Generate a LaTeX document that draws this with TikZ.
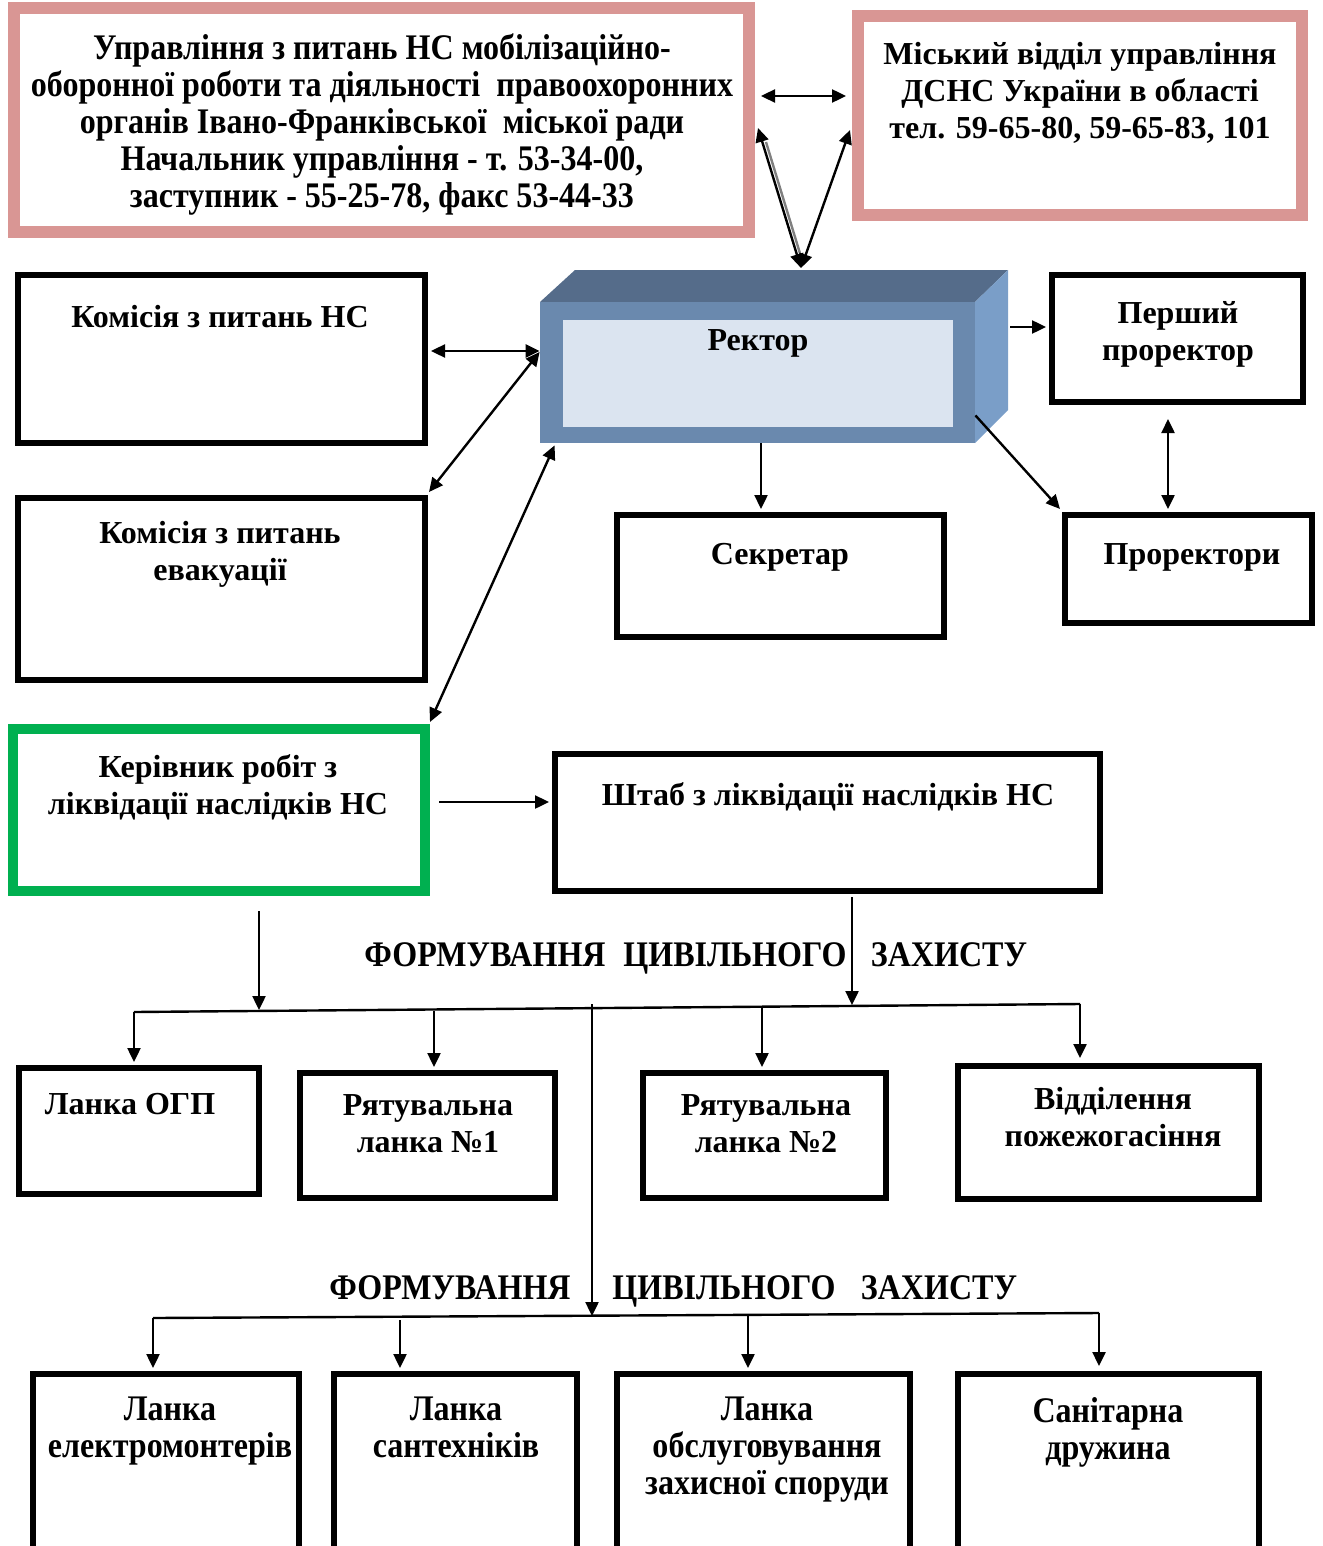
\documentclass[tikz,border=0pt]{standalone}
\usepackage{fontspec}
\setmainfont{Liberation Serif}
\newfontfamily\narrowfont[FakeStretch=0.89]{Liberation Serif Bold}
\usetikzlibrary{arrows.meta,fit,calc,positioning}

\definecolor{pinkframe}{RGB}{217,150,148}
\definecolor{greenframe}{RGB}{0,176,80}
\definecolor{rectfront}{RGB}{106,137,174}
\definecolor{recttop}{RGB}{85,108,138}
\definecolor{rectside}{RGB}{122,158,200}
\definecolor{rectinner}{RGB}{219,228,240}

\tikzset{
  blk/.style={draw, line width=3pt, inner sep=0pt},
  pinkblk/.style={draw=pinkframe, line width=6pt, inner sep=0pt},
  greenblk/.style={draw=greenframe, line width=5pt, inner sep=0pt},
  txt/.style={anchor=north, inner sep=0pt, align=center,
    font=\bfseries\fontsize{16}{18.5}\selectfont, execute at begin node=\strut},
  ntxt/.style={txt, font=\narrowfont\fontsize{18}{18.5}\selectfont},
  link/.style={line width=1.2pt},
  >={Triangle[length=7pt,width=6.5pt]}
}

\begin{document}
\begin{tikzpicture}[x=0.5pt, y=-0.5pt]
  \useasboundingbox (0,0) rectangle (1322,1546);

  % upper organs
  \node[pinkblk, fit={(14,8) (749,232)}] (upr) {};
  \node[ntxt] (uprT) at (382,33) {Управління з питань НС мобілізаційно-\\оборонної роботи та діяльності~ правоохоронних\\органів Івано-Франківської~ міської ради\\Начальник управління - т. 53-34-00,\\заступник - 55-25-78, факс 53-44-33};
  \node[pinkblk, fit={(858,16) (1302,215)}] (dsns) {};
  \node[txt] (dsnsT) at (1080,42) {Міський відділ управління\\ДСНС України в області\\тел. 59-65-80, 59-65-83, 101};

  % rector block
  \fill[recttop] (540,302) -- (575,270) -- (1008,270) -- (975,302) -- cycle;
  \fill[rectside] (975,302) -- (1008,270) -- (1008,410) -- (975,443) -- cycle;
  \fill[rectfront] (540,302) rectangle (975,443);
  \fill[rectinner] (563,320) rectangle (953,427);
  \node[fit={(540,302) (975,443)}, inner sep=0pt] (rector) {};
  \node[txt] (rectorT) at (758,324) {Ректор};
  \coordinate (rtop) at (801,268);

  % left column
  \node[blk, fit={(18,275) (425,443)}] (komns) {};
  \node[txt] (komnsT) at (220,301) {Комісія з питань НС};
  \node[blk, fit={(18,498) (425,680)}] (komev) {};
  \node[txt] (komevT) at (220,521) {Комісія з питань\\евакуації};
  \node[greenblk, fit={(13,729) (425,891)}] (kerivn) {};
  \node[txt] (kerivnT) at (218,754) {Керівник робіт з\\ліквідації наслідків НС};

  % right column
  \node[blk, fit={(1052,275) (1303,402)}] (pershyi) {};
  \node[txt] (pershyiT) at (1178,301) {Перший\\проректор};
  \node[blk, fit={(1065,515) (1312,623)}] (prorekt) {};
  \node[txt] (prorektT) at (1192,538) {Проректори};
  \node[blk, fit={(617,515) (944,637)}] (sekr) {};
  \node[txt] (sekrT) at (780,538) {Секретар};
  \node[blk, fit={(555,754) (1100,891)}] (shtab) {};
  \node[txt] (shtabT) at (828,779) {Штаб з ліквідації наслідків НС};

  % formations, first row
  \node[ntxt] (f1a) at (485,940) {ФОРМУВАННЯ};
  \node[ntxt] (f1b) at (735,940) {ЦИВІЛЬНОГО};
  \node[ntxt] (f1c) at (949,940) {ЗАХИСТУ};
  \node[blk, fit={(19,1068) (259,1194)}] (ogp) {};
  \node[txt] (ogpT) at (130,1088) {Ланка ОГП};
  \node[blk, fit={(300,1073) (555,1198)}] (ryat1) {};
  \node[txt] (ryat1T) at (428,1094) {Рятувальна\\ланка №1};
  \node[blk, fit={(643,1073) (886,1198)}] (ryat2) {};
  \node[txt] (ryat2T) at (766,1094) {Рятувальна\\ланка №2};
  \node[blk, fit={(958,1066) (1259,1199)}] (viddil) {};
  \node[txt] (viddilT) at (1113,1087) {Відділення\\пожежогасіння};

  % formations, second row
  \node[ntxt] (f2a) at (450,1273) {ФОРМУВАННЯ};
  \node[ntxt] (f2b) at (724,1273) {ЦИВІЛЬНОГО};
  \node[ntxt] (f2c) at (939,1273) {ЗАХИСТУ};
  \node[blk, fit={(33,1374) (299,1600)}] (elektro) {};
  \node[ntxt] (elektroT) at (170,1397) {Ланка\\електромонтерів};
  \node[blk, fit={(334,1374) (577,1600)}] (santeh) {};
  \node[ntxt] (santehT) at (456,1397) {Ланка\\сантехніків};
  \node[blk, fit={(617,1374) (910,1600)}] (obsl) {};
  \node[ntxt] (obslT) at (767,1397) {Ланка\\обслуговування\\захисної споруди};
  \node[blk, fit={(958,1374) (1259,1600)}] (sanit) {};
  \node[ntxt] (sanitT) at (1108,1397) {Санітарна\\дружина};

  % links at the top
  \draw[link, <->] ($(upr.east |- 0,96)+(6,0)$) -- ($(dsns.west |- 0,96)+(-6,0)$);
  \draw[link, gray] ($(upr.east |- 0,142)+(11,0)$) -- ($(rtop)+(1,-8)$);
  \draw[link, <->] (rtop) -- ($(upr.east |- 0,128)+(3,0)$);
  \draw[link, <->] (rtop) -- ($(dsns.west |- 0,130)+(-2,0)$);

  % links of the rector
  \draw[link, <->] ($(komns.east |- 0,351)+(3,0)$) -- (rector.west |- 0,351);
  \draw[link, <->] (rector.west |- 0,352) -- ($(komev.north east)+(1,-3)$);
  \draw[link, <->] ($(rector.south west)+(15,2)$) -- ($(kerivn.north east)+(0,-2)$);
  \draw[link, ->] ($(rector.east |- 0,327)+(35,0)$) -- ($(pershyi.west |- 0,327)+(-3,0)$);
  \draw[link, ->] ($(rector.south east)+(0,-28)$) -- ($(prorekt.north west)+(-2,-3)$);
  \draw[link, <->] ($(pershyi.south -| 1168,0)+(0,14)$) -- ($(prorekt.north -| 1168,0)+(0,-3)$);
  \draw[link, ->] (rector.south -| 761,0) -- ($(sekr.north -| 761,0)+(0,-3)$);
  \draw[link, ->] ($(kerivn.east |- 0,802)+(9,0)$) -- ($(shtab.west |- 0,802)+(-3,0)$);

  % buses to the formations
  \coordinate (bus1L) at (134,1012);
  \coordinate (bus1R) at (1080,1004);
  \draw[link] (bus1L) -- (bus1R);
  \draw[link, ->] ($(kerivn.south -| 259,0)+(0,15)$) -- (259,1010);
  \draw[link, ->] ($(shtab.south -| 852,0)+(0,3)$) -- (852,1005);
  \draw[link, ->] (bus1L) -- ($(ogp.north -| bus1L)+(0,-3)$);
  \draw[link, ->] (434,1011) -- ($(ryat1.north -| 434,0)+(0,-3)$);
  \draw[link, ->] (762,1008) -- ($(ryat2.north -| 762,0)+(0,-3)$);
  \draw[link, ->] (bus1R) -- ($(viddil.north -| bus1R)+(0,-5)$);

  \coordinate (bus2L) at (153,1318);
  \coordinate (bus2R) at (1099,1313);
  \draw[link] (bus2L) -- (bus2R);
  \draw[link, ->] (592,1004) -- (592,1316);
  \draw[link, ->] (bus2L) -- ($(elektro.north -| bus2L)+(0,-3)$);
  \draw[link, ->] (400,1320) -- ($(santeh.north -| 400,0)+(0,-3)$);
  \draw[link, ->] (748,1316) -- ($(obsl.north -| 748,0)+(0,-3)$);
  \draw[link, ->] (bus2R) -- ($(sanit.north -| bus2R)+(0,-5)$);
\end{tikzpicture}
\end{document}
